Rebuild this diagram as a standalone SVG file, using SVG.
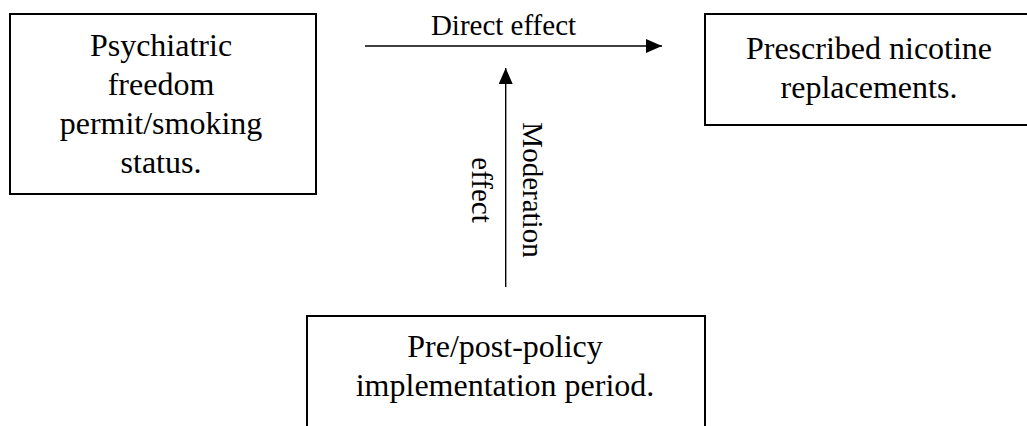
<svg xmlns="http://www.w3.org/2000/svg" width="1027" height="426" viewBox="0 0 1027 426">
<style>
.box{fill:#fff;stroke:#000;stroke-width:2}
.t{font-family:'Liberation Serif','Times New Roman','DejaVu Serif',serif;font-size:32px;fill:#000;text-anchor:middle}
.lbl{font-family:'Liberation Serif','Times New Roman','DejaVu Serif',serif;font-size:29px;fill:#000;text-anchor:middle}
.ln{stroke:#000;stroke-width:1.4;fill:none}
</style>
<defs>
<marker id="ah" markerUnits="userSpaceOnUse" markerWidth="17" markerHeight="15" refX="16" refY="7" orient="auto">
<path d="M0,0 L16,7 L0,14 Z" fill="#000"/>
</marker>
</defs>
<rect width="1027" height="426" fill="#fff"/>
<g id="node-psychiatric">
<rect class="box" x="10" y="14" width="306" height="180"/>
<text class="t" font-family="Liberation Serif, serif" x="161" y="55.5">Psychiatric</text>
<text class="t" font-family="Liberation Serif, serif" x="161" y="94.5">freedom</text>
<text class="t" font-family="Liberation Serif, serif" x="161" y="133.5">permit/smoking</text>
<text class="t" font-family="Liberation Serif, serif" x="161" y="172.5">status.</text>
</g>
<g id="node-nicotine">
<rect class="box" x="705" y="14" width="330" height="111"/>
<text class="t" font-family="Liberation Serif, serif" x="869" y="58.5">Prescribed nicotine</text>
<text class="t" font-family="Liberation Serif, serif" x="869" y="97.5">replacements.</text>
</g>
<g id="node-policy">
<rect class="box" x="307" y="316" width="398" height="130"/>
<text class="t" font-family="Liberation Serif, serif" x="505" y="357">Pre/post-policy</text>
<text class="t" font-family="Liberation Serif, serif" x="505" y="395.5">implementation period.</text>
</g>
<g id="connectors">
<line class="ln" x1="365" y1="46" x2="662" y2="46" marker-end="url(#ah)"/>
<text class="lbl" font-family="Liberation Serif, serif" x="503.5" y="35">Direct effect</text>
<line class="ln" x1="505.7" y1="287" x2="505.7" y2="68" marker-end="url(#ah)"/>
<text class="lbl" font-family="Liberation Serif, serif" transform="translate(523,190) rotate(90)">Moderation</text>
<text class="lbl" font-family="Liberation Serif, serif" transform="translate(472,190) rotate(90)">effect</text>
</g>
</svg>
